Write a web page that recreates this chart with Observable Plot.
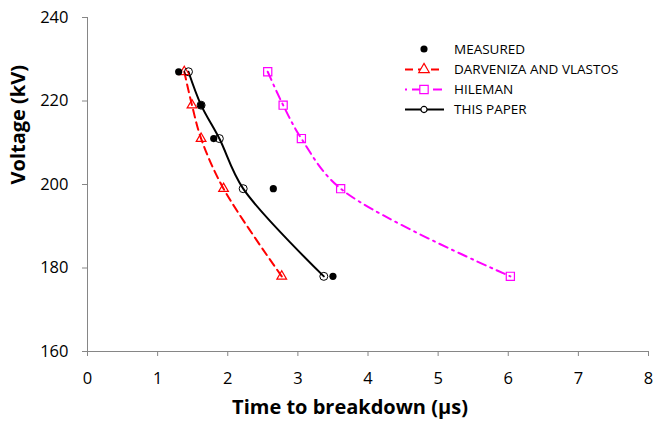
<!DOCTYPE html>
<html>
<head>
<meta charset="utf-8">
<script src="https://cdn.jsdelivr.net/npm/d3@7"></script>
<script src="https://cdn.jsdelivr.net/npm/@observablehq/plot@0.6"></script>
<style>
  body { margin: 0; background: #fff; }
  #wrap { position: relative; width: 656px; height: 421px; }
  #legend { position: absolute; left: 0; top: 0; }
</style>
</head>
<body>
<div id="wrap"></div>
<script>
const voltage = [227, 219, 211, 199, 178];
const measuredTime = [1.30, 1.62, 1.80, 2.65, 3.50];
const darvenizaTime = [1.38, 1.49, 1.62, 1.94, 2.77];
const hilemanTime = [2.57, 2.79, 3.05, 3.61, 6.03];
const thisPaperTime = [1.44, 1.62, 1.88, 2.22, 3.37];
const xTicks = [0, 1, 2, 3, 4, 5, 6, 7, 8];
const yTicks = [160, 180, 200, 220, 240];
const seriesNames = ["MEASURED", "DARVENIZA AND VLASTOS", "HILEMAN", "THIS PAPER"];

const rows = (times) => times.map((t, i) => ({t, v: voltage[i]}));
const measured = rows(measuredTime);
const darveniza = rows(darvenizaTime);
const hileman = rows(hilemanTime);
const thisPaper = rows(thisPaperTime);

const font = "'Open Sans', sans-serif";
const axisGrey = "#868686";

const chart = Plot.plot({
  width: 656,
  height: 421,
  marginLeft: 87,
  marginRight: 8,
  marginTop: 17,
  marginBottom: 70,
  style: {fontFamily: font, fontSize: "16.5px", background: "#fff", color: "#000"},
  x: {domain: [0, 8]},
  y: {domain: [160, 240]},
  marks: [
    Plot.axisX({ticks: xTicks, tickSize: 5, tickPadding: 16, stroke: axisGrey, fill: "#000", label: null, tickFormat: d => d}),
    Plot.axisY({ticks: yTicks, tickSize: 5, tickPadding: 14, stroke: axisGrey, fill: "#000", label: null, tickFormat: d => d}),
    Plot.ruleX([0], {stroke: axisGrey}),
    Plot.ruleY([160], {stroke: axisGrey}),
    Plot.line(darveniza, {x: "t", y: "v", stroke: "#ff0000", strokeWidth: 2, strokeDasharray: "8 5", curve: "catmull-rom"}),
    Plot.line(hileman, {x: "t", y: "v", stroke: "#ff00ff", strokeWidth: 2, strokeDasharray: "9 5 2 5", curve: "catmull-rom"}),
    Plot.line(thisPaper, {x: "t", y: "v", stroke: "#000", strokeWidth: 2, curve: "catmull-rom"}),
    Plot.dot(darveniza, {x: "t", y: "v", symbol: "triangle", r: 3.6, stroke: "#ff0000", strokeWidth: 1.2, fill: "none"}),
    Plot.dot(hileman, {x: "t", y: "v", symbol: "square", r: 4.6, stroke: "#ff00ff", strokeWidth: 1.2, fill: "none"}),
    Plot.dot(thisPaper, {x: "t", y: "v", r: 4, stroke: "#000", strokeWidth: 1, fill: "none"}),
    Plot.dot(measured, {x: "t", y: "v", r: 3.6, fill: "#000", stroke: "none"}),
    Plot.text(["Time to breakdown (µs)"], {frameAnchor: "bottom", dx: -18, dy: 56, lineAnchor: "middle", fontSize: 20, fontWeight: "bold", fill: "#000"}),
    Plot.text(["Voltage (kV)"], {frameAnchor: "left", dx: -69, rotate: -90, lineAnchor: "middle", fontSize: 20, fontWeight: "bold", fill: "#000"})
  ]
});
document.getElementById("wrap").appendChild(chart);

// Legend
const lg = d3.select("#wrap").append("svg").attr("id", "legend")
  .attr("width", 656).attr("height", 421)
  .style("font-family", font);
const legendStyles = [
  {stroke: null, marker: "dot", color: "#000"},
  {stroke: "#ff0000", dash: "8 5", marker: "triangle", color: "#ff0000"},
  {stroke: "#ff00ff", dash: "2 5 9 5", marker: "square", color: "#ff00ff"},
  {stroke: "#000", dash: null, marker: "circle", color: "#000"}
];
const rowY = [49, 69.5, 89.5, 109.5];
seriesNames.forEach((name, i) => {
  const s = legendStyles[i];
  const y = rowY[i];
  if (s.stroke) {
    lg.append("line").attr("x1", 405).attr("x2", 444).attr("y1", y).attr("y2", y)
      .attr("stroke", s.stroke).attr("stroke-width", 2)
      .attr("stroke-dasharray", s.dash);
  }
  const sym = {dot: d3.symbolCircle, triangle: d3.symbolTriangle, square: d3.symbolSquare, circle: d3.symbolCircle}[s.marker];
  const size = {dot: 40, triangle: 48, square: 70, circle: 30}[s.marker];
  lg.append("path").attr("d", d3.symbol(sym, size)())
    .attr("transform", `translate(424,${y})`)
    .attr("fill", s.marker === "dot" ? "#000" : "#fff")
    .attr("stroke", s.marker === "dot" ? "none" : s.color)
    .attr("stroke-width", 1.2);
  lg.append("text").attr("x", 454).attr("y", y).attr("dy", "0.35em")
    .attr("font-size", 13.5).attr("fill", "#000").text(name);
});
</script>
</body>
</html>
